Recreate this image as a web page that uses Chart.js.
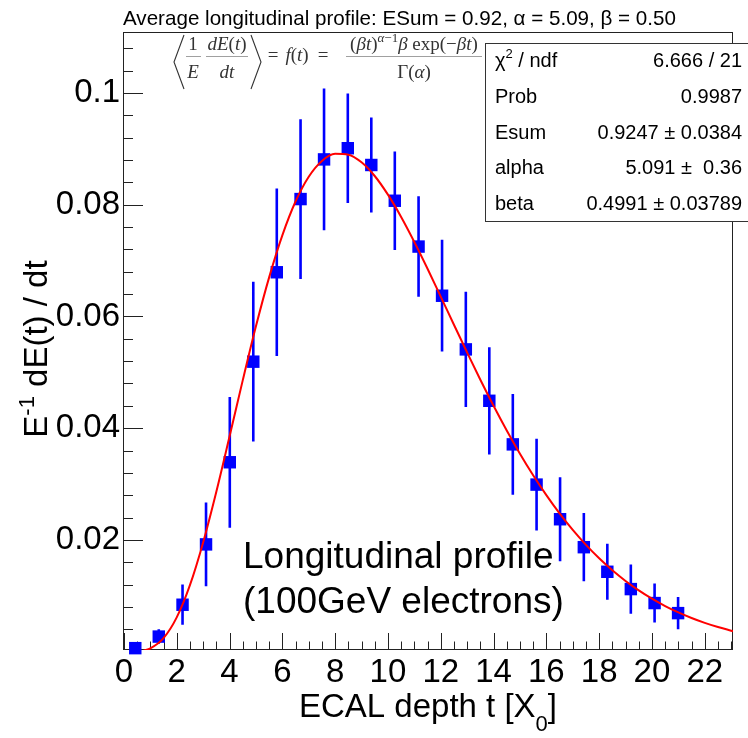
<!DOCTYPE html>
<html><head><meta charset="utf-8">
<script src="https://cdn.jsdelivr.net/npm/chart.js@4.4.1/dist/chart.umd.min.js"></script>
<style>html,body{margin:0;padding:0;background:#fff;}canvas{display:block;}</style>
</head><body>
<canvas id="c" width="748" height="738"></canvas>
<script>
// ---- data ----
const depthT = [0.43,1.32,2.22,3.11,4.01,4.90,5.79,6.69,7.58,8.48,9.37,10.26,11.16,12.05,12.95,13.84,14.73,15.63,16.52,17.42,18.31,19.20,20.10,20.99];
const profile = [0.00063,0.0027,0.0084,0.0192,0.0339,0.0519,0.0679,0.0810,0.0881,0.0901,0.0871,0.0807,0.0725,0.0637,0.0541,0.0449,0.0371,0.0299,0.0237,0.0187,0.0143,0.0112,0.0087,0.0069];
const profileErr = [0.0004,0.0013,0.0036,0.0075,0.0117,0.0143,0.0150,0.0143,0.0127,0.0098,0.0085,0.0088,0.0090,0.0100,0.0103,0.0096,0.0090,0.0082,0.0075,0.0061,0.0050,0.0044,0.0035,0.0029];
const fitT = [0.75,1,1.5,2,2.5,3,3.5,4,4.5,5,5.5,6,6.5,7,7.5,8,8.5,9,9.5,10,10.5,11,11.5,12,12.5,13,13.5,14,14.5,15,15.5,16,16.5,17,17.5,18,18.5,19,19.5,20,20.5,21,21.5,22,22.5,23,23.07];
const fitProfile = [0.00021,0.00059,0.00242,0.00613,0.0119,0.01955,0.02862,0.0385,0.04855,0.05822,0.06699,0.07451,0.08056,0.0850,0.08782,0.0891,0.08895,0.08758,0.08513,0.08179,0.07781,0.07333,0.06854,0.06355,0.05851,0.05354,0.04867,0.04401,0.03959,0.03543,0.03157,0.02802,0.02475,0.02179,0.01912,0.01672,0.01457,0.01266,0.01097,0.00948,0.00817,0.00703,0.00603,0.00516,0.00441,0.00376,0.00367];
const xTickValues = [0,2,4,6,8,10,12,14,16,18,20,22];
const xTickLabels = ['0','2','4','6','8','10','12','14','16','18','20','22'];
const yTickValues = [0.02,0.04,0.06,0.08,0.1];
const yTickLabels = ['0.02','0.04','0.06','0.08','0.1'];
const titleText = 'Average longitudinal profile: ESum = 0.92, \u03b1 = 5.09, \u03b2 = 0.50';
const statsLabels = ['\u03c7|2| / ndf','Prob','Esum','alpha','beta'];
const statsValues = ['6.666 / 21','0.9987','0.9247 \u00b1 0.0384','5.091 \u00b1  0.36','0.4991 \u00b1 0.03789'];
const annotationLines = ['Longitudinal profile','(100GeV electrons)'];

const SANS = "'Liberation Sans', Arial, Helvetica, sans-serif";
const SERIF = "'Liberation Serif', 'DejaVu Serif', serif";
const F = (size, fam, style) => (style ? style + ' ' : '') + size + 'px ' + fam;

function drawParts(ctx, parts, x, y, align) {
  let w = 0;
  parts.forEach(p => { ctx.font = p.font; p.w = ctx.measureText(p.t).width; w += p.w; });
  let cx = align === 'center' ? x - w / 2 : (align === 'right' ? x - w : x);
  ctx.textAlign = 'left';
  parts.forEach(p => { ctx.font = p.font; ctx.fillText(p.t, cx, y + (p.dy || 0)); cx += p.w; });
  return w;
}

const rootPlugin = {
  id: 'rootStyle',
  beforeDatasetsDraw(chart) {
    const ctx = chart.ctx, a = chart.chartArea;
    const xs = chart.scales.x, ys = chart.scales.y;
    ctx.save();
    ctx.strokeStyle = '#222'; ctx.lineWidth = 1;
    ctx.strokeRect(a.left + 0.5, a.top + 0.5, a.right - a.left - 1, a.bottom - a.top - 1);
    ctx.beginPath();
    for (let k = 0; k * 0.5 <= xs.max; k++) {
      const v = k * 0.5; if (v < xs.min) continue;
      const px = Math.round(xs.getPixelForValue(v)) + 0.5;
      const len = (k % 4 === 0) ? 17 : 8.5;
      ctx.moveTo(px, a.bottom); ctx.lineTo(px, a.bottom - len);
    }
    for (let k = 1; k * 0.004 <= ys.max; k++) {
      const v = k * 0.004;
      const py = Math.round(ys.getPixelForValue(v)) + 0.5;
      const len = (k % 5 === 0) ? 20 : 10;
      ctx.moveTo(a.left, py); ctx.lineTo(a.left + len, py);
    }
    ctx.stroke();
    ctx.strokeStyle = '#0000ff'; ctx.lineWidth = 2.6;
    ctx.beginPath();
    depthT.forEach((t, i) => {
      const px = xs.getPixelForValue(t);
      const top = Math.max(a.top, ys.getPixelForValue(profile[i] + profileErr[i]));
      const bot = Math.min(a.bottom, ys.getPixelForValue(profile[i] - profileErr[i]));
      ctx.moveTo(px, top); ctx.lineTo(px, bot);
    });
    ctx.stroke();
    ctx.restore();
  },
  afterDraw(chart) {
    const ctx = chart.ctx, a = chart.chartArea;
    ctx.save();
    ctx.fillStyle = '#000'; ctx.textBaseline = 'alphabetic';
    ctx.font = F(20.6, SANS); ctx.textAlign = 'left';
    ctx.fillText(titleText, a.left, 25);
    const f33 = F(33, SANS), f23 = F(22, SANS);
    drawParts(ctx, [{t: 'ECAL depth t [X', font: f33}, {t: '0', font: f23, dy: 14}, {t: ']', font: f33}], (a.left + a.right) / 2, 717, 'center');
    ctx.save(); ctx.translate(47, 349); ctx.rotate(-Math.PI / 2);
    drawParts(ctx, [{t: 'E', font: f33}, {t: '-1', font: f23, dy: -13}, {t: ' dE(t) / dt', font: f33}], 0, 0, 'center');
    ctx.restore();
    ctx.font = F(37, SANS); ctx.textAlign = 'left';
    ctx.fillText(annotationLines[0], 243, 568);
    ctx.fillText(annotationLines[1], 243, 613);
    drawFormula(ctx);
    ctx.fillStyle = '#fff'; ctx.fillRect(485, 43, 270, 179);
    ctx.strokeStyle = '#333'; ctx.lineWidth = 1;
    ctx.strokeRect(485.5, 43.5, 270, 178);
    ctx.fillStyle = '#000';
    const f20 = F(20, SANS), f13 = F(13, SANS);
    statsLabels.forEach((lab, i) => {
      const y = 67 + 35.8 * i;
      const segs = lab.split('|');
      const parts = segs.map((s, j) => ({t: s, font: j % 2 ? f13 : f20, dy: j % 2 ? -9 : 0}));
      drawParts(ctx, parts, 495, y, 'left');
      ctx.font = f20; ctx.textAlign = 'right';
      ctx.fillText(statsValues[i], 742, y);
    });
    ctx.restore();
  }
};

function drawFormula(ctx) {
  const col = '#333';
  ctx.save();
  ctx.fillStyle = col; ctx.strokeStyle = col;
  const it = F(19, SERIF, 'italic'), up = F(19, SERIF), sm = F(13, SERIF, 'italic'), smUp = F(13, SERIF);
  const numY = 50, barY = 56, denY = 78, midY = 61;
  const bar = (x0, x1) => { ctx.save(); ctx.lineWidth = 0.8; ctx.strokeStyle = '#888'; ctx.beginPath(); ctx.moveTo(x0, barY + 0.5); ctx.lineTo(x1, barY + 0.5); ctx.stroke(); ctx.restore(); };
  ctx.lineWidth = 1.1;
  ctx.beginPath(); ctx.moveTo(184, 35); ctx.lineTo(174, 62); ctx.lineTo(184, 89); ctx.stroke();
  drawParts(ctx, [{t: '1', font: up}], 193, numY, 'center');
  drawParts(ctx, [{t: 'E', font: it}], 193, denY, 'center');
  bar(186, 201);
  drawParts(ctx, [{t: 'dE', font: it}, {t: '(', font: up}, {t: 't', font: it}, {t: ')', font: up}], 227, numY, 'center');
  drawParts(ctx, [{t: 'dt', font: it}], 227, denY, 'center');
  bar(206, 248);
  ctx.beginPath(); ctx.moveTo(251, 35); ctx.lineTo(261, 62); ctx.lineTo(251, 89); ctx.stroke();
  drawParts(ctx, [{t: '=', font: up}], 273, midY, 'center');
  drawParts(ctx, [{t: 'f', font: it}, {t: '(', font: up}, {t: 't', font: it}, {t: ')', font: up}], 297, midY, 'center');
  drawParts(ctx, [{t: '=', font: up}], 323, midY, 'center');
  drawParts(ctx, [{t: '(', font: up}, {t: '\u03b2t', font: it}, {t: ')', font: up}, {t: '\u03b1', font: sm, dy: -8}, {t: '\u22121', font: smUp, dy: -8},
    {t: '\u03b2 ', font: it}, {t: 'exp(\u2212', font: up}, {t: '\u03b2t', font: it}, {t: ')', font: up}], 414, numY, 'center');
  drawParts(ctx, [{t: '\u0393(', font: up}, {t: '\u03b1', font: it}, {t: ')', font: up}], 414, denY, 'center');
  bar(346, 482);
  ctx.restore();
}

const chart = new Chart(document.getElementById('c'), {
  type: 'scatter',
  data: {
    datasets: [
      {
        type: 'line', label: 'fit',
        data: fitT.map((t, i) => ({x: t, y: fitProfile[i]})),
        borderColor: '#ff0000', borderWidth: 2, pointRadius: 0, fill: false,
        cubicInterpolationMode: 'monotone'
      },
      {
        type: 'scatter', label: 'profile',
        data: depthT.map((t, i) => ({x: t, y: profile[i]})),
        pointStyle: 'rect', pointRadius: 8.8, backgroundColor: '#0000ff', borderWidth: 0, borderColor: '#0000ff',
        clip: false
      }
    ]
  },
  options: {
    responsive: false, animation: false, devicePixelRatio: 1,
    layout: {padding: {top: 32, right: 15, left: 0, bottom: 0}},
    plugins: {legend: {display: false}, tooltip: {enabled: false}, title: {display: false}},
    scales: {
      x: {
        type: 'linear', min: -0.035, max: 23.07,
        grid: {display: false, drawTicks: false}, border: {display: false},
        afterBuildTicks: s => { s.ticks = xTickValues.map(v => ({value: v})); },
        afterFit: s => { s.height = 88; },
        ticks: {
          autoSkip: false, maxRotation: 0, minRotation: 0, padding: 3, color: '#000',
          font: {family: SANS, size: 33},
          callback: v => { const i = xTickValues.indexOf(v); return i >= 0 ? xTickLabels[i] : ''; }
        }
      },
      y: {
        type: 'linear', min: 0.0003, max: 0.1109,
        grid: {display: false, drawTicks: false}, border: {display: false},
        afterBuildTicks: s => { s.ticks = yTickValues.map(v => ({value: v})); },
        afterFit: s => { s.width = 123; },
        ticks: {
          autoSkip: false, padding: 3, color: '#000',
          font: {family: SANS, size: 33},
          callback: v => { const i = yTickValues.findIndex(t => Math.abs(t - v) < 1e-9); return i >= 0 ? yTickLabels[i] : ''; }
        }
      }
    }
  },
  plugins: [rootPlugin]
});
</script>
</body></html>
